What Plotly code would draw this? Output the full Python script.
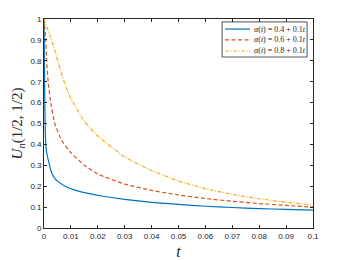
import plotly.graph_objects as go

t_blue = [0, 0.0003, 0.0006, 0.001, 0.0016, 0.0028, 0.004, 0.0053, 0.008, 0.0115, 0.015, 0.0214, 0.03, 0.04, 0.05, 0.06, 0.07, 0.08, 0.09, 0.1]
u_blue = [1, 0.6, 0.42, 0.36, 0.325, 0.265, 0.238, 0.222, 0.199, 0.181, 0.169, 0.153, 0.137, 0.123, 0.113, 0.104, 0.098, 0.093, 0.089, 0.086]

t_red = [0, 0.0005, 0.001, 0.0016, 0.0025, 0.004, 0.0065, 0.01, 0.015, 0.02, 0.03, 0.04, 0.05, 0.06, 0.07, 0.08, 0.09, 0.1]
u_red = [1, 0.93, 0.8, 0.69, 0.6, 0.50, 0.42, 0.36, 0.30, 0.258, 0.21, 0.18, 0.158, 0.141, 0.128, 0.117, 0.108, 0.10]

t_yel = [0, 0.002, 0.004, 0.006, 0.008, 0.01, 0.015, 0.02, 0.03, 0.04, 0.05, 0.06, 0.07, 0.08, 0.09, 0.1]
u_yel = [1, 0.93, 0.85, 0.76, 0.68, 0.62, 0.51, 0.44, 0.34, 0.275, 0.225, 0.188, 0.161, 0.14, 0.123, 0.11]

names = ["<i>α</i>(<i>t</i>) = 0.4 + 0.1<i>t</i>",
         "<i>α</i>(<i>t</i>) = 0.6 + 0.1<i>t</i>",
         "<i>α</i>(<i>t</i>) = 0.8 + 0.1<i>t</i>"]

x_ticks = [0, 0.01, 0.02, 0.03, 0.04, 0.05, 0.06, 0.07, 0.08, 0.09, 0.1]
x_labels = ["0", "0.01", "0.02", "0.03", "0.04", "0.05", "0.06", "0.07", "0.08", "0.09", "0.1"]
y_ticks = [0, 0.1, 0.2, 0.3, 0.4, 0.5, 0.6, 0.7, 0.8, 0.9, 1]
y_labels = ["0", "0.1", "0.2", "0.3", "0.4", "0.5", "0.6", "0.7", "0.8", "0.9", "1"]

styles = [dict(color="#0072BD", width=1.2),
          dict(color="#D95319", width=1.2, dash="4px,2.5px"),
          dict(color="#EDB120", width=1.2, dash="4px,1.5px,1px,1.5px")]
series = [(t_blue, u_blue), (t_red, u_red), (t_yel, u_yel)]

fig = go.Figure()
for (tx, uy), st, nm in zip(series, styles, names):
    fig.add_trace(go.Scatter(x=tx, y=uy, mode="lines", name=nm, showlegend=False,
                             line=dict(shape="spline", smoothing=0.4, **st)))

# legend box drawn in plot-area paper coordinates
fig.add_shape(type="rect", xref="paper", yref="paper", x0=0.662, x1=0.978, y0=0.818, y1=0.986,
              line=dict(color="#262626", width=0.8), fillcolor="white", layer="above")
row_y = [0.952, 0.900, 0.847]
for ry, st, nm in zip(row_y, styles, names):
    fig.add_shape(type="line", xref="paper", yref="paper", x0=0.673, x1=0.766, y0=ry, y1=ry,
                  line=st, layer="above")
    fig.add_annotation(xref="paper", yref="paper", x=0.773, y=ry, text=nm, showarrow=False,
                       xanchor="left", yanchor="middle",
                       font=dict(family="Liberation Serif, Times New Roman", size=8, color="#262626"))

axis_common = dict(showgrid=False, zeroline=False, showline=True, linecolor="#262626",
                   linewidth=0.8, mirror="ticks", ticks="inside", ticklen=3, automargin=False,
                   tickcolor="#262626", tickfont=dict(family="Liberation Sans, Arial", size=8, color="#262626"))

fig.update_xaxes(range=[0, 0.1], tickvals=x_ticks, ticktext=x_labels,
                 title=dict(text="<i>t</i>", font=dict(family="Liberation Serif, Times New Roman", size=16, color="#262626"), standoff=8),
                 **axis_common)
fig.update_yaxes(range=[0, 1], tickvals=y_ticks, ticktext=y_labels,
                 title=dict(text="<i>U<sub>n</sub></i>(1/2, 1/2)", font=dict(family="Liberation Serif, Times New Roman", size=15, color="#262626"), standoff=4),
                 **axis_common)

fig.update_layout(
    width=338, height=252,
    margin=dict(l=36, r=33, t=11, b=32),
    plot_bgcolor="white", paper_bgcolor="white",
    showlegend=False,
)

fig.write_html("out.html")
